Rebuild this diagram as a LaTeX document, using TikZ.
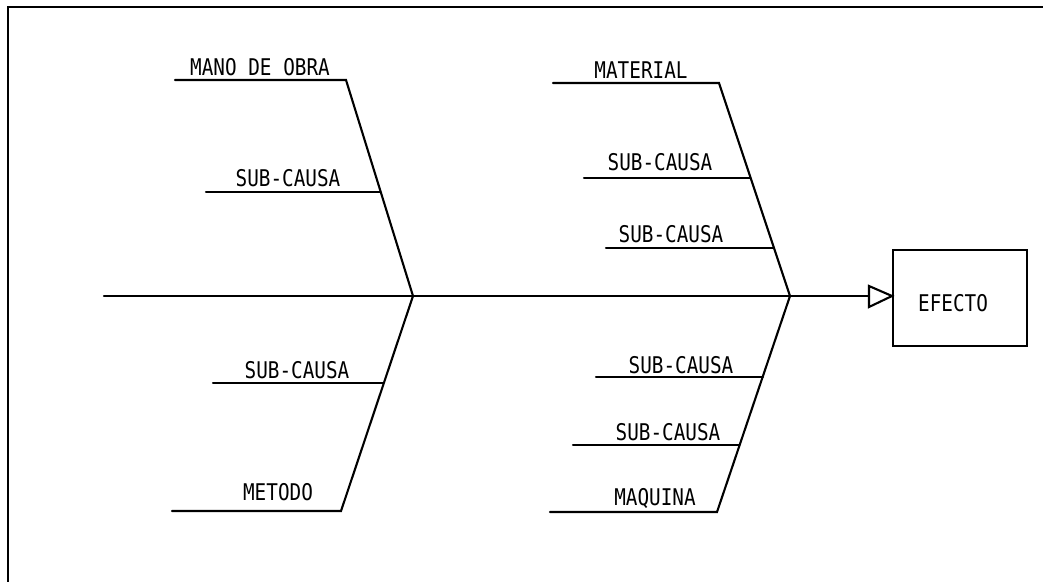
\documentclass[tikz,border=0pt]{standalone}
\usepackage{fontspec}
\setmonofont{DejaVu Sans Mono}
\usetikzlibrary{arrows.meta}
\newcommand{\narrowtxt}[1]{\scalebox{0.84}[1]{#1}}
\begin{document}
\begin{tikzpicture}[x=1pt,y=-1pt,
  ln/.style={line width=2.1pt,line cap=round},
  lbl/.style={font=\ttfamily\fontsize{23}{23}\selectfont,inner sep=0pt,anchor=base}]
\useasboundingbox (0,0) rectangle (1043,581);
% frame
\draw[ln] (8,590) -- (8,7) -- (1050,7);
% spine
\coordinate (s0) at (104,296);
\coordinate (j1) at (413,296);
\coordinate (j2) at (790,296);
\node[draw,line width=2.1pt,minimum width=134pt,minimum height=96pt,inner sep=0pt] (efecto) at (960,298) {};
\node[lbl] at (953,311) {\narrowtxt{EFECTO}};
\draw[ln] (s0) -- (j1) -- (j2) -- (869,296);
\draw[line width=2.1pt,line join=miter] (869,286) -- (892,296) -- (869,307) -- cycle;
% left upper: MANO DE OBRA
\coordinate (a0) at (346,80);
\coordinate (a1) at (175,80);
\draw[ln] (a1) -- (a0) -- (j1);
\node[lbl] at (260,75) {\narrowtxt{MANO DE OBRA}};
\coordinate (b0) at (206,192); \coordinate (b1) at (380,192);
\draw[ln] (b0) -- (b1);
\node[lbl] at (288,186) {\narrowtxt{SUB-CAUSA}};
% left lower: METODO
\coordinate (c0) at (341,511); \coordinate (c1) at (172,511);
\draw[ln] (c1) -- (c0) -- (j1);
\node[lbl] at (278,500) {\narrowtxt{METODO}};
\coordinate (d0) at (213,383); \coordinate (d1) at (383,383);
\draw[ln] (d0) -- (d1);
\node[lbl] at (297,378) {\narrowtxt{SUB-CAUSA}};
% right upper: MATERIAL
\coordinate (e0) at (719,83); \coordinate (e1) at (553,83);
\draw[ln] (e1) -- (e0) -- (j2);
\node[lbl] at (641,78) {\narrowtxt{MATERIAL}};
\coordinate (f0) at (584,178); \coordinate (f1) at (750,178);
\draw[ln] (f0) -- (f1);
\node[lbl] at (660,170) {\narrowtxt{SUB-CAUSA}};
\coordinate (g0) at (606,248); \coordinate (g1) at (773,248);
\draw[ln] (g0) -- (g1);
\node[lbl] at (671,242) {\narrowtxt{SUB-CAUSA}};
% right lower: MAQUINA
\coordinate (h0) at (717,512); \coordinate (h1) at (550,512);
\draw[ln] (h1) -- (h0) -- (j2);
\node[lbl] at (655,505) {\narrowtxt{MAQUINA}};
\coordinate (i0) at (596,377); \coordinate (i1) at (763,377);
\draw[ln] (i0) -- (i1);
\node[lbl] at (681,373) {\narrowtxt{SUB-CAUSA}};
\coordinate (k0) at (573,445); \coordinate (k1) at (739,445);
\draw[ln] (k0) -- (k1);
\node[lbl] at (668,440) {\narrowtxt{SUB-CAUSA}};
\end{tikzpicture}
\end{document}
